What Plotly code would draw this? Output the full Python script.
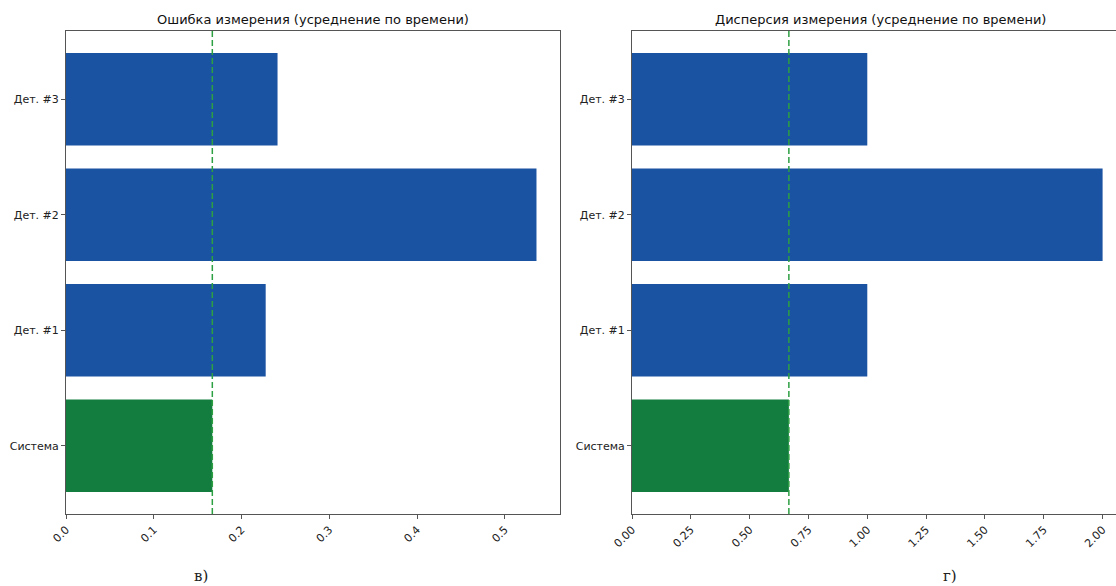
import plotly.graph_objects as go

# Data
categories = ["Система", "Дет. #1", "Дет. #2", "Дет. #3"]
error_values = [0.1667, 0.2275, 0.536, 0.241]
variance_values = [0.6667, 1.0, 2.0, 1.0]
error_ref = 0.1667
variance_ref = 0.6667
error_ticks = [0.0, 0.1, 0.2, 0.3, 0.4, 0.5]
error_tick_labels = ["0.0", "0.1", "0.2", "0.3", "0.4", "0.5"]
variance_ticks = [0.0, 0.25, 0.5, 0.75, 1.0, 1.25, 1.5, 1.75, 2.0]
variance_tick_labels = ["0.00", "0.25", "0.50", "0.75", "1.00", "1.25", "1.50", "1.75", "2.00"]
title_left = "Ошибка измерения (усреднение по времени)"
title_right = "Дисперсия измерения (усреднение по времени)"

BLUE = "#1a53a2"
GREEN = "#137c3f"
LINE_GREEN = "#2ca042"
AXIS = "#555555"
FONT = "DejaVu Sans"

bar_colors = [GREEN] + [BLUE] * (len(categories) - 1)

W, H = 1116, 586
y_dom = [(H - 514) / H, (H - 31) / H]
x1_dom = [66 / W, 560 / W]
x2_dom = [632 / W, 1.0]

fig = go.Figure()
fig.add_trace(go.Bar(x=error_values, y=categories, orientation="h", width=0.8,
                     marker=dict(color=bar_colors, line_width=0),
                     xaxis="x", yaxis="y", showlegend=False))
fig.add_trace(go.Bar(x=variance_values, y=categories, orientation="h", width=0.8,
                     marker=dict(color=bar_colors, line_width=0),
                     xaxis="x2", yaxis="y2", showlegend=False))

# Reference dashed lines
for xref, yref, val in (("x", "y domain", error_ref), ("x2", "y2 domain", variance_ref)):
    fig.add_shape(type="line", xref=xref, yref=yref, x0=val, x1=val, y0=0, y1=1,
                  line=dict(color=LINE_GREEN, width=1.5, dash="6px,3px"), layer="above")

tick_font = dict(family=FONT, size=11, color="#222222")
common_x = dict(showgrid=False, zeroline=False, showline=True, linecolor=AXIS, linewidth=1,
                ticks="outside", ticklen=4, tickcolor=AXIS, tickangle=-45,
                tickfont=tick_font, fixedrange=True, automargin=False)
common_y = dict(showgrid=False, zeroline=False, showline=True, linecolor=AXIS, linewidth=1,
                ticks="outside", ticklen=4, tickcolor=AXIS, tickfont=tick_font,
                range=[-0.59, 3.59], domain=y_dom, fixedrange=True, automargin=False,
                categoryorder="array", categoryarray=categories)

fig.update_layout(
    width=W, height=H,
    margin=dict(l=0, r=0, t=0, b=0, pad=0),
    paper_bgcolor="white", plot_bgcolor="white",
    xaxis=dict(domain=x1_dom, range=[0, 0.5628], tickvals=error_ticks,
               ticktext=error_tick_labels, mirror=True, anchor="y", **common_x),
    yaxis=dict(anchor="x", mirror=True, **common_y),
    xaxis2=dict(domain=x2_dom, range=[0, 2.057], tickvals=variance_ticks,
                ticktext=variance_tick_labels, mirror=True, anchor="y2", **common_x),
    yaxis2=dict(anchor="x2", mirror=False, **common_y),
    annotations=[
        dict(text=title_left, xref="paper", yref="paper", x=(x1_dom[0] + x1_dom[1]) / 2,
             y=(H - 19) / H, showarrow=False, xanchor="center", yanchor="middle",
             font=dict(family=FONT, size=13, color="#111111")),
        dict(text=title_right, xref="paper", yref="paper", x=(632 + 1128) / 2 / W,
             y=(H - 19) / H, showarrow=False, xanchor="center", yanchor="middle",
             font=dict(family=FONT, size=13, color="#111111")),
        dict(text="в)", xref="paper", yref="paper", x=201 / W, y=(H - 576) / H,
             showarrow=False, xanchor="center", yanchor="middle",
             font=dict(family="DejaVu Serif", size=15, color="#222222")),
        dict(text="г)", xref="paper", yref="paper", x=950 / W, y=(H - 576) / H,
             showarrow=False, xanchor="center", yanchor="middle",
             font=dict(family="DejaVu Serif", size=15, color="#222222")),
    ],
)

fig.write_html("out.html")
